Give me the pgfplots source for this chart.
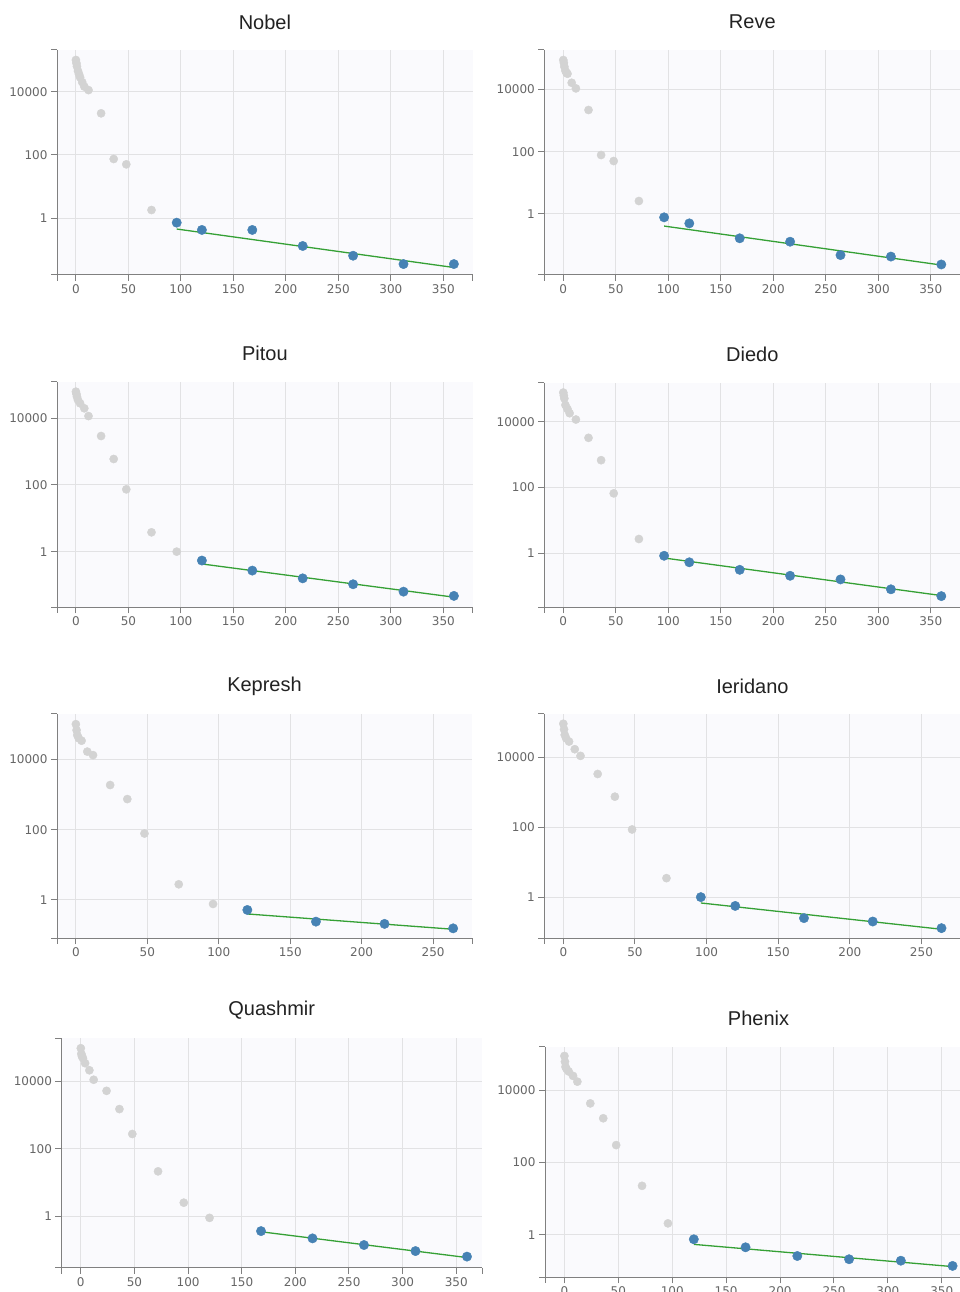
\documentclass[border=0pt]{standalone}
\usepackage{fontspec}
\setmainfont{Liberation Sans}
\newfontfamily\tickfont{DejaVu Sans}
\usepackage{pgfplots}
\pgfplotsset{compat=1.18}
\definecolor{bgc}{HTML}{FAFAFD}
\definecolor{gridc}{HTML}{E2E2E4}
\definecolor{axc}{HTML}{808080}
\definecolor{tickc}{HTML}{666666}
\definecolor{titc}{HTML}{222222}
\definecolor{grayp}{HTML}{D3D3D3}
\definecolor{bluep}{HTML}{4682B4}
\definecolor{greenl}{HTML}{35A035}
\pgfplotsset{
  mypanel/.style={
    scale only axis,
    axis lines*=left,
    axis background/.style={fill=bgc},
    grid=major,
    major grid style={gridc, line width=1pt},
    axis line style={axc, line width=1pt},
    tick align=outside,
    major tick length=6pt,
    major tick style={axc, line width=1pt},
    yminorticks=false,
    ytick={1,100,10000},
    yticklabels={1,100,10000},
    tick label style={font=\tickfont\fontsize{12}{14}\selectfont, text=tickc},
    title style={at={(0.5,1)}, anchor=center, yshift=22pt, font=\fontsize{20}{22}\selectfont, text=titc},
    after end axis/.code={
      \draw[axc, line width=1pt] (rel axis cs:0,0) -- ++(-6pt,0);
      \draw[axc, line width=1pt] (rel axis cs:0,1) -- ++(-6pt,0);
      \draw[axc, line width=1pt] (rel axis cs:0,0) -- ++(0,-6pt);
      \draw[axc, line width=1pt] (rel axis cs:1,0) -- ++(0,-6pt);
    },
  },
  x360/.style={xmin=-18, xmax=378, xtick={0,50,100,150,200,250,300,350}, xticklabels={0,50,100,150,200,250,300,350}},
  x264/.style={xmin=-13.2, xmax=277.2, xtick={0,50,100,150,200,250}, xticklabels={0,50,100,150,200,250}},
  gpts/.style={only marks, mark=*, color=grayp, mark size=4.1pt, mark options={draw=grayp, fill=grayp}},
  bpts/.style={only marks, mark=*, color=bluep, mark size=4.7pt, mark options={draw=bluep, fill=bluep}},
  fitl/.style={no marks, greenl, line width=1.3pt},
}
\begin{document}
\begin{tikzpicture}
\useasboundingbox (0,0) rectangle (959pt,1292pt);

% Nobel
\begin{axis}[ymode=log, mypanel, x360, anchor=south west, at={(57pt,1017pt)}, width=415.8pt, height=225pt,
  ymin=0.01626, ymax=207000, title={Nobel}]
\addplot[gpts] coordinates {(0,100000) (0.5,79400) (1,63100) (2,44700) (3,35500) (4,28200) (6,20000) (8,14500) (12,11200) (24,2070) (36,74.8) (48,50.7) (72,1.83)};
\addplot[fitl] coordinates {(96,0.46) (360,0.028)};
\addplot[bpts] coordinates {(96,0.73) (120,0.43) (168,0.43) (216,0.134) (264,0.066) (312,0.036) (360,0.036)};
\end{axis}

% Reve
\begin{axis}[ymode=log, mypanel, x360, anchor=south west, at={(544.4pt,1017pt)}, width=415.8pt, height=225pt,
  ymin=0.01104, ymax=182800, title={Reve}]
\addplot[gpts] coordinates {(0,87100) (0.5,70800) (1,53700) (2,39800) (3,33900) (4,31600) (8,16200) (12,10700) (24,2170) (36,78) (48,50) (72,2.61)};
\addplot[fitl] coordinates {(96,0.41) (360,0.023)};
\addplot[bpts] coordinates {(96,0.78) (120,0.50) (168,0.166) (216,0.129) (264,0.048) (312,0.043) (360,0.024)};
\end{axis}

% Pitou
\begin{axis}[ymode=log, mypanel, x360, anchor=south west, at={(57pt,684.7pt)}, width=415.8pt, height=225.6pt,
  ymin=0.02138, ymax=125900, title={Pitou}]
\addplot[gpts] coordinates {(0,63100) (0.5,54000) (1,44700) (2,35500) (4,28200) (8,20000) (12,11700) (24,2950) (36,603) (48,74) (72,3.8) (96,1.0)};
\addplot[fitl] coordinates {(120,0.427) (360,0.043)};
\addplot[bpts] coordinates {(120,0.54) (168,0.27) (216,0.158) (264,0.105) (312,0.063) (360,0.047)};
\end{axis}

% Diedo
\begin{axis}[ymode=log, mypanel, x360, anchor=south west, at={(544.4pt,684.7pt)}, width=415.8pt, height=224.6pt,
  ymin=0.02239, ymax=154900, title={Diedo}]
\addplot[gpts] coordinates {(0,77600) (0.5,63100) (1,51300) (2,32400) (4,24500) (6,18200) (12,11700) (24,3240) (36,676) (48,66) (72,2.69)};
\addplot[fitl] coordinates {(96,0.71) (360,0.051)};
\addplot[bpts] coordinates {(96,0.83) (120,0.525) (168,0.31) (216,0.204) (264,0.158) (312,0.079) (360,0.049)};
\end{axis}

% Kepresh
\begin{axis}[ymode=log, mypanel, x264, anchor=south west, at={(57pt,353.7pt)}, width=415pt, height=224.3pt,
  ymin=0.08128, ymax=195000, title={Kepresh}]
\addplot[gpts] coordinates {(0,100000) (0.5,67600) (1,49000) (2,39800) (4,33900) (8,16600) (12,13200) (24,1860) (36,741) (48,77.6) (72,2.79) (96,0.77)};
\addplot[fitl] coordinates {(120,0.40) (264,0.147)};
\addplot[bpts] coordinates {(120,0.52) (168,0.242) (216,0.209) (264,0.156)};
\end{axis}

% Ieridano
\begin{axis}[ymode=log, mypanel, x264, anchor=south west, at={(544.4pt,353.7pt)}, width=416pt, height=224.3pt,
  ymin=0.06607, ymax=177800, title={Ieridano}]
\addplot[gpts] coordinates {(0,93300) (0.5,64600) (1,44700) (2,35500) (4,28800) (8,17400) (12,11200) (24,3390) (36,759) (48,87) (72,3.5)};
\addplot[fitl] coordinates {(96,0.68) (264,0.12)};
\addplot[bpts] coordinates {(96,1.0) (120,0.56) (168,0.25) (216,0.20) (264,0.129)};
\end{axis}

% Quashmir
\begin{axis}[ymode=log, mypanel, x360, xmax=374, anchor=south west, at={(61.5pt,24.3pt)}, width=420.5pt, height=229.4pt,
  ymin=0.02951, ymax=190500, title={Quashmir}]
\addplot[gpts] coordinates {(0,96600) (0.5,66100) (1,56200) (2,49000) (4,34700) (8,21400) (12,11200) (24,5250) (36,1510) (48,275) (72,21.4) (96,2.51) (120,0.89)};
\addplot[fitl] coordinates {(168,0.344) (360,0.059)};
\addplot[bpts] coordinates {(168,0.36) (216,0.219) (264,0.139) (312,0.092) (360,0.063)};
\end{axis}

% Phenix
\begin{axis}[ymode=log, mypanel, x360, anchor=south west, at={(545pt,14.7pt)}, width=427pt, height=230.6pt,
  ymin=0.06792, ymax=156700, title={Phenix}]
\addplot[gpts] coordinates {(0,87100) (0.5,60300) (1,43700) (2,38000) (4,32400) (8,24500) (12,17000) (24,4270) (36,1660) (48,302) (72,22.7) (96,2.09)};
\addplot[fitl] coordinates {(120,0.55) (360,0.134)};
\addplot[bpts] coordinates {(120,0.76) (168,0.457) (216,0.263) (264,0.214) (312,0.195) (360,0.14)};
\end{axis}
\end{tikzpicture}
\end{document}
